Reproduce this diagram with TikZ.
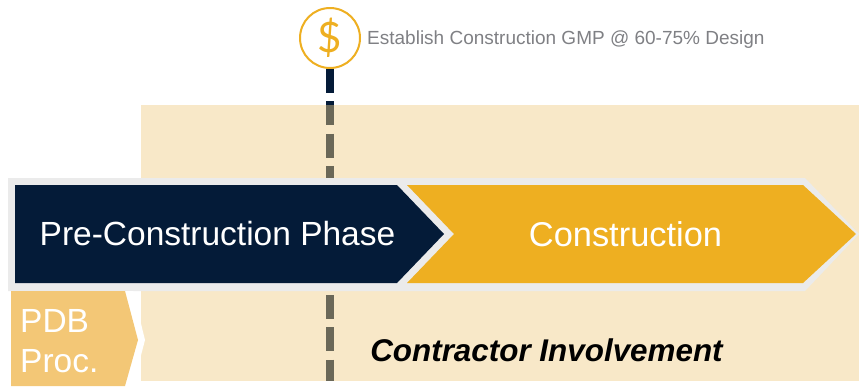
\documentclass[tikz,border=0pt]{standalone}
\usepackage{fontspec}
\setmainfont{Liberation Sans}
\newfontfamily\signfont{Lato}
\usetikzlibrary{positioning}
\definecolor{navy}{HTML}{041B38}
\definecolor{gold}{HTML}{EEAF21}
\definecolor{band}{HTML}{EBEBEB}
\definecolor{pdbgold}{HTML}{F3C776}
\definecolor{wash}{HTML}{EFCB82}
\definecolor{labelgrey}{HTML}{7F8084}
\tikzset{
  phaselabel/.style={text=white,font=\fontsize{33.5}{40}\selectfont,inner sep=0pt},
  milestone/.style={circle,draw=gold,line width=2pt,fill=white,minimum size=60pt,inner sep=0pt},
  milestoneline/.style={navy,line width=8.5pt,dash pattern=on 24pt off 8.3pt}
}
\begin{document}
\begin{tikzpicture}[x=1pt,y=-1pt]
	\useasboundingbox (0,0) rectangle (859,386);
	\node[milestone](dollar)at (330,38){};
	\node[text=gold,font=\signfont\fontsize{42}{50}\selectfont,inner sep=0pt](sign)at (330,38){\$};
	\node[anchor=west,text=labelgrey,font=\fontsize{19}{23}\selectfont,inner sep=0pt](gmp)at (367,39.5){Establish Construction GMP @ 60-75\% Design};
	\coordinate(linebot)at (330,381);
	\draw[milestoneline] (dollar.south) -- (linebot);
	% wash over the line
	\fill[wash,opacity=0.44] (141,105) rectangle (859,381);
	% band, phases
	\fill[band] (8,178) -- (805,178) -- (859,234) -- (805,291) -- (8,291) -- cycle;
	\fill[navy] (15,185) -- (397,185) -- (444,234) -- (397,283) -- (15,283) -- cycle;
	\fill[gold] (407,185) -- (803,185) -- (856,234) -- (803,283) -- (407,283) -- (454,234) -- cycle;
	\fill[white] (125,291) -- (133,291) -- (145,340) -- (133,386) -- (125,386) -- cycle;
	\fill[pdbgold] (11,291) -- (125,291) -- (138,340) -- (125,386) -- (11,386) -- cycle;
	\node[phaselabel](pre)at (217.5,234){Pre-Construction Phase};
	\node[phaselabel,font=\fontsize{34.4}{40}\selectfont](con)at (625.5,234){Construction};
	\node[phaselabel,anchor=west,align=left,font=\fontsize{33.5}{40}\selectfont](pdb)at (20,341){PDB\\Proc.};
	\node[inner sep=0pt,font=\fontsize{31.4}{36}\selectfont\bfseries\itshape](inv)at (546.5,350){Contractor Involvement};
\end{tikzpicture}
\end{document}
